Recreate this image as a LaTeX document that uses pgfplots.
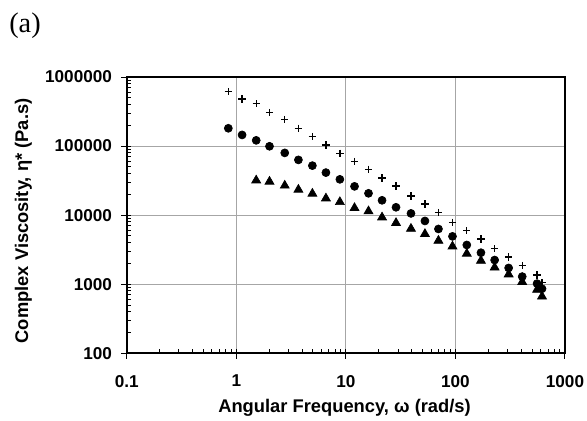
\documentclass[border=0pt]{standalone}
\usepackage{pgfplots}
\pgfplotsset{compat=1.18}
\usepackage{pgfplotstable}
\usepackage{fontspec}
\setmainfont{Liberation Sans}
\newfontfamily\seriffont{Liberation Serif}

\pgfplotstableread{
w eta
0.846 611000
1.13 483000
1.52 409000
2.01 306000
2.77 242000
3.69 181000
4.95 137000
6.58 104000
8.82 78700
12.0 59600
16.1 46100
21.4 34600
28.7 26500
39.3 19000
52.7 14500
70 10900
94 7870
127 5960
171 4520
228 3270
306 2480
407 1870
556 1360
617 1060
}\crosses

\pgfplotstableread{
w eta
0.846 181000
1.13 145000
1.52 121000
2.01 99300
2.77 79700
3.69 63100
4.95 52100
6.58 41300
8.82 33000
12.0 26100
16.1 20700
21.4 16400
28.7 13000
39.3 10600
52.7 8240
70 6310
94 4930
127 3700
171 2860
228 2240
306 1720
407 1290
556 1020
617 860
}\circles

\pgfplotstableread{
w eta
1.52 31900
2.01 30600
2.77 26800
3.69 23400
4.95 20500
6.58 17500
8.82 15500
12.0 12700
16.1 11400
21.4 9290
28.7 7710
39.3 6370
52.7 5340
70 4270
94 3530
127 2770
171 2190
228 1750
306 1390
407 1080
556 832
617 666
}\triangles

\begin{document}
\begin{tikzpicture}
\begin{axis}[
  scale only axis,
  width=263pt, height=165.8pt,
  xmode=log, ymode=log,
  xmin=0.1, xmax=1000, ymin=100, ymax=1000000,
  xtick={0.1,1,10,100,1000}, xticklabels={0.1,1,10,100,1000},
  ytick={100,1000,10000,100000,1000000},
  yticklabels={100,1000,10000,100000,1000000},
  xtick pos=bottom, ytick pos=left,
  tick align=inside,
  major tick length=-3.2pt,
  minor tick length=2.8pt,
  tick style={black, line width=0.6pt},
  grid=major, grid style={gray!70, line width=0.5pt},
  axis line style={line width=1.4pt, black},
  /pgf/number format/assume math mode=true,
  ticklabel style={font=\bfseries\fontsize{10.3}{12}\selectfont},
  yticklabel style={xshift=-5.3pt},
  xticklabel style={yshift=-9.5pt},
  xlabel={Angular Frequency, ω (rad/s)},
  ylabel={Complex Viscosity, η* (Pa.s)},
  label style={font=\bfseries\fontsize{11}{13}\selectfont},
  xlabel style={at={(axis description cs:0.497,-0.216)}, anchor=base},
  ylabel style={at={(axis description cs:-0.225,0.479)}, anchor=base, rotate=0},
]
\addplot[only marks, mark=+, mark size=2.2pt, black, line width=0.8pt] table[x=w,y=eta] {\crosses};
\addplot[only marks, mark=*, mark size=2.4pt, black] table[x=w,y=eta] {\circles};
\addplot[only marks, mark=triangle*, mark size=3.1pt, black] table[x=w,y=eta] {\triangles};
\coordinate (bl) at (rel axis cs:-0.2891,-0.2450);
\coordinate (tr) at (rel axis cs:1.0502,1.2787);
\coordinate (alab) at (rel axis cs:-0.232,1.1846);
\end{axis}
\node at (alab) {\seriffont\fontsize{17}{19}\selectfont (a)};
\pgfresetboundingbox
\path[use as bounding box] (bl) rectangle (tr);
\end{tikzpicture}
\end{document}
